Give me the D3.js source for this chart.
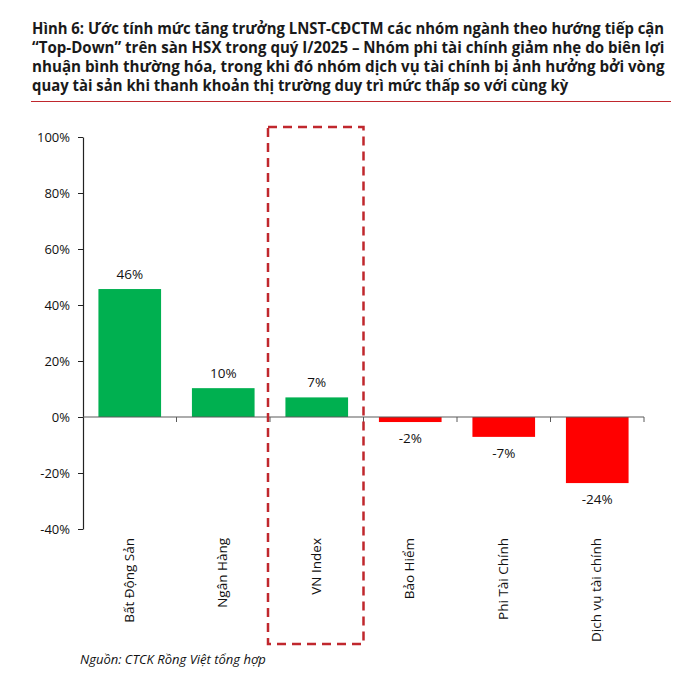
<!DOCTYPE html>
<html>
<head>
<meta charset="utf-8">
<script src="https://cdn.jsdelivr.net/npm/d3@7"></script>
<style>
  body { margin: 0; background: #fff; }
  svg { display: block; font-family: "Open Sans", "Noto Sans", sans-serif; }
</style>
</head>
<body>
<svg id="chart" width="678" height="682"></svg>
<script>
// Chart data
const categories = ["Bất Động Sản", "Ngân Hàng", "VN Index", "Bảo Hiểm", "Phi Tài Chính", "Dịch vụ tài chính"];
const growth = [45.7, 10.3, 7.0, -1.8, -7.1, -23.6];
const yTicks = [-40, -20, 0, 20, 40, 60, 80, 100];
const highlighted = "VN Index";

const titleLines = [
    "Hình 6: Ước tính mức tăng trưởng LNST-CĐCTM các nhóm ngành theo hướng tiếp cận",
    "“Top-Down” trên sàn HSX trong quý I/2025 – Nhóm phi tài chính giảm nhẹ do biên lợi",
    "nhuận bình thường hóa, trong khi đó nhóm dịch vụ tài chính bị ảnh hưởng bởi vòng",
    "quay tài sản khi thanh khoản thị trường duy trì mức thấp so với cùng kỳ"
];
const sourceNote = "Nguồn:  CTCK Rồng Việt tổng hợp";

const svg = d3.select("#chart");

// Title block: the first three lines are squeezed to one width, the last
// one gets the same squeeze as the first
const title = svg.append("g").attr("class", "title");
const titleLeft = 32, titleWidth = 633;
let squeeze = 1;
titleLines.forEach((line, i) => {
    const t = title.append("text")
        .attr("font-size", 16)
        .attr("font-weight", 700)
        .attr("fill", "#1a1a1a")
        .text(line);
    const natural = t.node().getComputedTextLength();
    if (i === 0) squeeze = titleWidth / natural;
    const k = i < 3 ? titleWidth / natural : squeeze;
    t.attr("transform", `translate(${titleLeft},${34 + i * 19}) scale(${k},1)`);
});
svg.append("line")
    .attr("x1", 31).attr("x2", 671)
    .attr("y1", 101.5).attr("y2", 101.5)
    .attr("stroke", "#c0272d")
    .attr("stroke-width", 1);

// Plot area
const plot = { left: 83, right: 644, top: 137, bottom: 529 };

const x = d3.scaleBand()
    .domain(categories)
    .range([plot.left, plot.right])
    .paddingInner(0.33)
    .paddingOuter(0.165);

const y = d3.scaleLinear()
    .domain([-40, 100])
    .range([plot.bottom, plot.top]);

const step = x.step();
const bandStart = d => x(d) - x.paddingInner() * step / 2;

// Bars
svg.append("g").selectAll("rect")
    .data(categories)
    .join("rect")
    .attr("x", d => x(d))
    .attr("width", x.bandwidth())
    .attr("y", (d, i) => y(Math.max(0, growth[i])))
    .attr("height", (d, i) => Math.abs(y(growth[i]) - y(0)))
    .attr("fill", (d, i) => growth[i] >= 0 ? "#00b050" : "#ff0000");

// Value labels
svg.append("g").selectAll("text")
    .data(categories)
    .join("text")
    .attr("x", d => x(d) + x.bandwidth() / 2)
    .attr("y", (d, i) => growth[i] >= 0 ? y(growth[i]) - 10 : y(growth[i]) + 21)
    .attr("text-anchor", "middle")
    .attr("font-size", 13.5)
    .attr("fill", "#111")
    .text((d, i) => Math.round(growth[i]) + "%");

// Y axis
const yAxis = svg.append("g")
    .attr("transform", `translate(${plot.left},0)`)
    .call(d3.axisLeft(y)
        .tickValues(yTicks)
        .tickSize(5)
        .tickSizeOuter(0)
        .tickPadding(8)
        .tickFormat(d => d + "%"));
yAxis.select(".domain").attr("stroke", "#222").attr("stroke-width", 1.2);
yAxis.selectAll(".tick line").attr("stroke", "#222");
yAxis.selectAll(".tick text")
    .attr("font-size", 13)
    .attr("font-family", "'Open Sans', sans-serif")
    .attr("fill", "#111");

// X axis at zero, ticks between categories
const xAxisLine = svg.append("g");
xAxisLine.append("line")
    .attr("x1", plot.left).attr("x2", plot.right)
    .attr("y1", y(0)).attr("y2", y(0))
    .attr("stroke", "#5a5a5a")
    .attr("stroke-width", 1.2);
const boundaries = categories.map(bandStart).concat([plot.right]);
xAxisLine.selectAll("line.tick")
    .data(boundaries.slice(1))
    .join("line")
    .attr("class", "tick")
    .attr("x1", d => d).attr("x2", d => d)
    .attr("y1", y(0)).attr("y2", y(0) + 5)
    .attr("stroke", "#5a5a5a");

// Category labels, rotated, below the plot
svg.append("g").selectAll("text")
    .data(categories)
    .join("text")
    .attr("transform", d => `translate(${x(d) + x.bandwidth() / 2 + 4},${plot.bottom + 9}) rotate(-90)`)
    .attr("text-anchor", "end")
    .attr("font-size", 13.5)
    .attr("fill", "#111")
    .text(d => d);

// Dashed highlight round the VN Index column
svg.append("rect")
    .attr("x", bandStart(highlighted) - 2)
    .attr("y", 127)
    .attr("width", step + 2)
    .attr("height", 644 - 127)
    .attr("fill", "none")
    .attr("stroke", "#c0272d")
    .attr("stroke-width", 2.5)
    .attr("stroke-dasharray", "9,6");

// Source note
svg.append("text")
    .attr("x", 80)
    .attr("y", 664)
    .attr("font-size", 13)
    .attr("font-style", "italic")
    .attr("fill", "#111")
    .text(sourceNote);
</script>
</body>
</html>
